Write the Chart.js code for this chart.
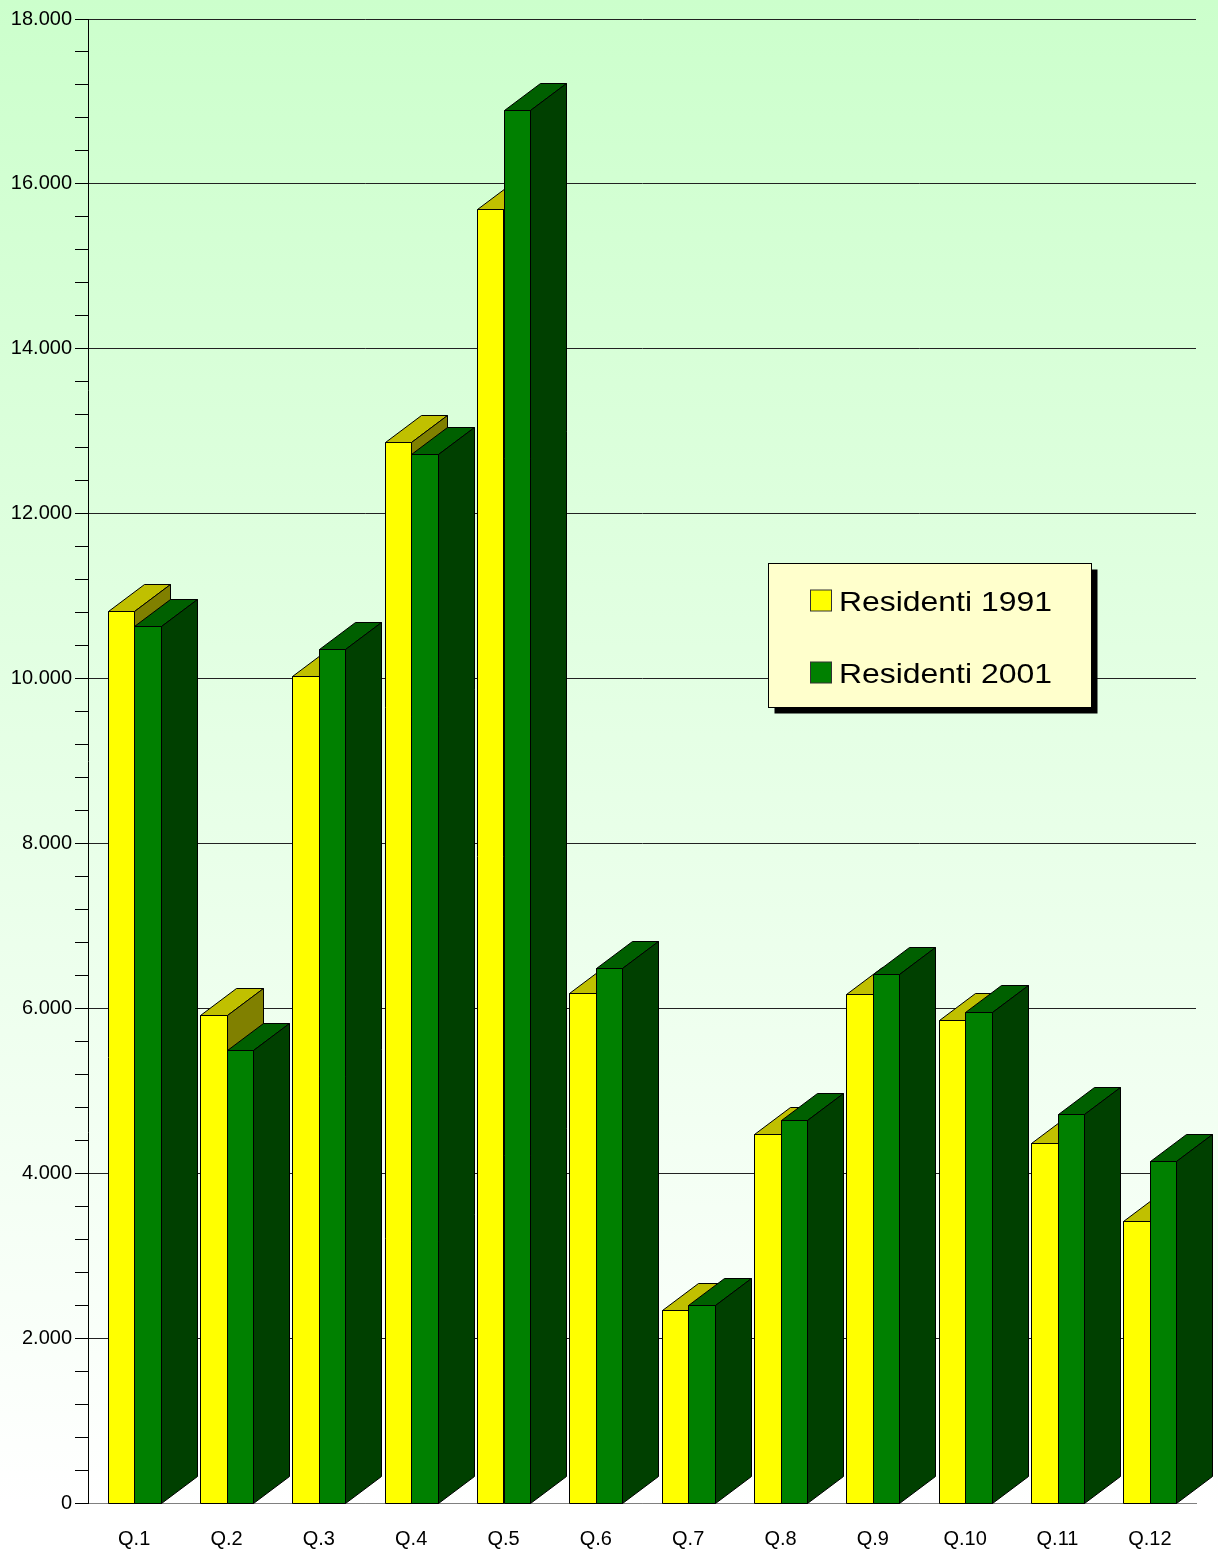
<!DOCTYPE html>
<html>
<head>
<meta charset="utf-8">
<script src="https://cdn.jsdelivr.net/npm/chart.js@4.4.1/dist/chart.umd.min.js"></script>
<style>
html,body{margin:0;padding:0;background:#fff;}
#wrap{width:1218px;height:1553px;}
</style>
</head>
<body>
<div id="wrap"><canvas id="c" width="1218" height="1553"></canvas></div>
<script>
const categories = ['Q.1','Q.2','Q.3','Q.4','Q.5','Q.6','Q.7','Q.8','Q.9','Q.10','Q.11','Q.12'];
const residenti1991 = [10820, 5919, 10031, 12870, 15696, 6186, 2341, 4476, 6174, 5859, 4367, 3421];
const residenti2001 = [10638, 5495, 10359, 12724, 16897, 6490, 2402, 4646, 6417, 5956, 4719, 4148];
const seriesLabels = ['Residenti 1991', 'Residenti 2001'];
const yMin = 0, yMax = 18000, yMajor = 2000, yMinor = 400;

const FONT = '"Liberation Sans", Arial, sans-serif';
const faces = [
  {front:'#FFFF00', top:'#C0C000', side:'#808000'},
  {front:'#008000', top:'#006000', side:'#004000'}
];
const DX = 36, DY = 27;

function fmt(v){ return String(v).replace(/\B(?=(\d{3})+(?!\d))/g, '.'); }

const bgPlugin = {
  id:'bg',
  beforeDraw(chart){
    const ctx = chart.ctx, a = chart.chartArea;
    ctx.save();
    ctx.fillStyle = '#ffffff';
    ctx.fillRect(0,0,chart.width,chart.height);
    const g = ctx.createLinearGradient(0,0,0,a.bottom);
    g.addColorStop(0,'#CCFFCC');
    g.addColorStop(1,'#FFFFFF');
    ctx.fillStyle = g;
    ctx.fillRect(0,0,chart.width,a.bottom);
    ctx.restore();
  }
};

function poly(ctx, pts, fill){
  ctx.beginPath();
  ctx.moveTo(pts[0][0], pts[0][1]);
  for (let i=1;i<pts.length;i++) ctx.lineTo(pts[i][0], pts[i][1]);
  ctx.closePath();
  ctx.fillStyle = fill; ctx.fill();
  ctx.stroke();
}

const bar3dPlugin = {
  id:'bar3d',
  beforeDatasetsDraw(chart){
    const ctx = chart.ctx;
    ctx.save();
    ctx.strokeStyle = '#000';
    ctx.lineWidth = 1;
    ctx.lineJoin = 'miter';
    const metas = chart.data.datasets.map((d,i)=>chart.getDatasetMeta(i));
    for (let j=0;j<categories.length;j++){
      metas.forEach((meta, di)=>{
        const el = meta.data[j];
        const p = el.getProps(['x','y','base','width'], true);
        const l = Math.round(p.x - p.width/2) + 0.5, r = Math.round(p.x + p.width/2) + 0.5;
        const t = Math.round(p.y) + 0.5, b = Math.round(p.base) + 0.5;
        const f = faces[di];
        poly(ctx, [[l,b],[l,t],[r,t],[r,b]], f.front);
        poly(ctx, [[l,t],[l+DX,t-DY],[r+DX,t-DY],[r,t]], f.top);
        poly(ctx, [[r,t],[r+DX,t-DY],[r+DX,b-DY],[r,b]], f.side);
      });
    }
    ctx.restore();
    return false;
  },
  afterDraw(chart){
    const ctx = chart.ctx;
    const bx = 768.5, by = 563.5, bw = 323, bh = 144;
    ctx.save();
    ctx.fillStyle = '#000';
    ctx.fillRect(bx+6, by+6, bw, bh);
    ctx.fillStyle = '#FFFFCC';
    ctx.fillRect(bx, by, bw, bh);
    ctx.strokeStyle = '#000'; ctx.lineWidth = 1;
    ctx.strokeRect(bx, by, bw, bh);
    const rows = [611, 683];
    seriesLabels.forEach((lab, i)=>{
      const base = rows[i];
      ctx.fillStyle = faces[i].front;
      ctx.fillRect(810.5, base-21, 21, 21);
      ctx.strokeStyle = '#333';
      ctx.strokeRect(810.5, base-21, 21, 21);
      ctx.save();
      ctx.translate(839, base);
      ctx.scale(1.14, 1);
      ctx.fillStyle = '#000';
      ctx.font = '28px ' + FONT;
      ctx.textBaseline = 'alphabetic';
      ctx.textAlign = 'left';
      ctx.fillText(lab, 0, 0);
      ctx.restore();
    });
    ctx.restore();
  }
};

new Chart(document.getElementById('c'), {
  type:'bar',
  data:{
    labels: categories,
    datasets:[
      {label: seriesLabels[0], data: residenti1991, backgroundColor: faces[0].front},
      {label: seriesLabels[1], data: residenti2001, backgroundColor: faces[1].front}
    ]
  },
  options:{
    responsive:false,
    devicePixelRatio:1,
    animation:false,
    layout:{padding:{top:19, right:22, left:0, bottom:0}},
    plugins:{legend:{display:false}, tooltip:{enabled:false}},
    datasets:{bar:{barPercentage:1, categoryPercentage:0.574}},
    scales:{
      x:{
        grid:{display:false, drawTicks:false},
        border:{display:true, color:'#808080', width:1},
        ticks:{color:'#000', font:{family:FONT, size:20}, padding:24, maxRotation:0, autoSkip:false},
        afterFit(s){ s.height = 50; }
      },
      y:{
        min:yMin, max:yMax,
        grid:{
          color:(c)=> (c.tick && c.tick.value % yMajor === 0) ? (c.tick.value === 0 ? '#808080' : '#222') : 'rgba(0,0,0,0)',
          tickColor:'#000',
          tickLength:13,
          lineWidth:1
        },
        border:{display:true, color:'#000', width:1},
        ticks:{
          stepSize:yMinor, autoSkip:false, maxTicksLimit:200, padding:3,
          color:'#000', font:{family:FONT, size:20},
          callback:(v)=> (v % yMajor === 0) ? fmt(v) : ''
        },
        afterFit(s){ s.width = 88; }
      }
    }
  },
  plugins:[bgPlugin, bar3dPlugin]
});
</script>
</body>
</html>
